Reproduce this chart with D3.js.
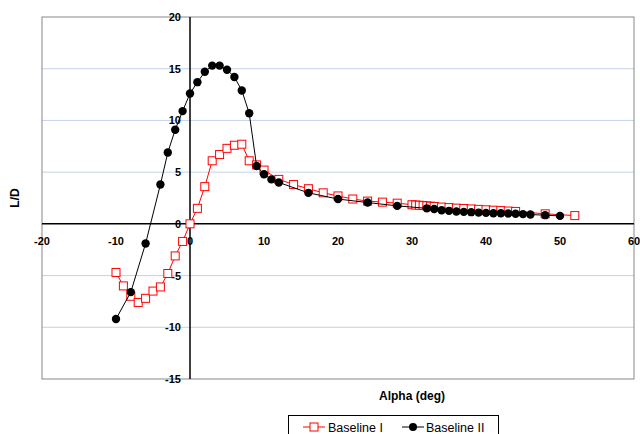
<!DOCTYPE html>
<html>
<head>
<meta charset="utf-8">
<script src="https://cdn.jsdelivr.net/npm/d3@7"></script>
<style>
	body { margin: 0; background: #fff; }
	svg { font-family: Arial, "Liberation Sans", sans-serif; }
</style>
</head>
<body>
<div id="chart"></div>
<script>
// Baseline I (red open squares)
const alphaI = [-10, -9, -8, -7, -6, -5, -4, -3, -2, -1, 0, 1, 2, 3, 4, 5, 6, 7, 8, 9, 10,
	12, 14, 16, 18, 20, 22, 24, 26, 28, 30, 30.5, 31, 31.5, 32, 32.5, 33,
	34, 35, 36, 37, 38, 39, 40, 41, 42, 43, 44, 48, 52];
const ldI = [-4.7, -6.0, -7.0, -7.6, -7.2, -6.5, -6.1, -4.8, -3.1, -1.7, 0, 1.5, 3.6, 6.1, 6.7, 7.3, 7.6, 7.7, 6.1, 5.7, 5.2,
	4.3, 3.8, 3.4, 3.0, 2.7, 2.4, 2.2, 2.1, 2.0, 1.85, 1.82, 1.8, 1.77, 1.74, 1.71, 1.68,
	1.62, 1.57, 1.52, 1.48, 1.44, 1.40, 1.36, 1.32, 1.28, 1.24, 1.2, 0.97, 0.8];

// Baseline II (black filled circles)
const alphaII = [-10, -8, -6, -4, -3, -2, -1, 0, 1, 2, 3, 4, 5, 6, 7, 8, 9, 10, 11, 12,
	16, 20, 24, 28, 32, 33, 34, 35, 36, 37, 38, 39, 40, 41, 42, 43, 44, 45, 46, 48, 50];
const ldII = [-9.2, -6.6, -1.9, 3.8, 6.9, 9.1, 10.9, 12.6, 13.7, 14.7, 15.3, 15.3, 14.9, 14.2, 12.9, 10.7, 5.6, 4.8, 4.3, 4.0,
	3.0, 2.4, 2.06, 1.74, 1.5, 1.43, 1.32, 1.26, 1.19, 1.16, 1.13, 1.09, 1.06, 1.03, 1.03, 1.0, 0.97, 0.94, 0.9, 0.84, 0.77];

const xTicks = [-20, -10, 0, 10, 20, 30, 40, 50, 60];
const yTicks = [-15, -10, -5, 0, 5, 10, 15, 20];
const seriesNames = ['Baseline I', 'Baseline II'];

const W = 640, H = 434;
const x = d3.scaleLinear().domain([-20, 60]).range([42, 634]);
const y = d3.scaleLinear().domain([-15, 20]).range([379, 17]);

const svg = d3.select('#chart').append('svg')
	.attr('width', W)
	.attr('height', H);

// gridlines
svg.append('g')
	.selectAll('line')
	.data(yTicks.filter(d => d != 0 && d != 20 && d != -15))
	.join('line')
	.attr('x1', x(-20)).attr('x2', x(60))
	.attr('y1', d => y(d)).attr('y2', d => y(d))
	.attr('stroke', '#c5d2ec')
	.attr('stroke-width', 1);

// plot frame
svg.append('rect')
	.attr('x', x(-20)).attr('y', y(20))
	.attr('width', x(60) - x(-20))
	.attr('height', y(-15) - y(20))
	.attr('fill', 'none')
	.attr('stroke', '#888')
	.attr('stroke-width', 1);

// axes crossing at zero
svg.append('line')
	.attr('x1', x(-20)).attr('x2', x(60))
	.attr('y1', y(0)).attr('y2', y(0))
	.attr('stroke', '#000').attr('stroke-width', 1.5);
svg.append('line')
	.attr('x1', x(0)).attr('x2', x(0))
	.attr('y1', y(20)).attr('y2', y(-15))
	.attr('stroke', '#000').attr('stroke-width', 1.5);

// tick labels
svg.append('g')
	.selectAll('text')
	.data(xTicks)
	.join('text')
	.attr('x', d => x(d))
	.attr('y', y(0) + 21)
	.attr('text-anchor', 'middle')
	.attr('font-size', 11)
	.attr('font-weight', 'bold')
	.text(d => d);

svg.append('g')
	.selectAll('text')
	.data(yTicks)
	.join('text')
	.attr('x', x(0) - 9)
	.attr('y', d => y(d) + 4)
	.attr('text-anchor', 'end')
	.attr('font-size', 11)
	.attr('font-weight', 'bold')
	.text(d => d);

// axis titles
svg.append('text')
	.attr('x', 412)
	.attr('y', 400)
	.attr('text-anchor', 'middle')
	.attr('font-size', 12)
	.attr('font-weight', 'bold')
	.text('Alpha (deg)');

svg.append('text')
	.attr('transform', 'translate(19,198) rotate(-90)')
	.attr('text-anchor', 'middle')
	.attr('font-size', 12)
	.attr('font-weight', 'bold')
	.text('L/D');

const line = d3.line()
	.x(d => x(d[0]))
	.y(d => y(d[1]));

const dataI = alphaI.map((a, i) => [a, ldI[i]]);
const dataII = alphaII.map((a, i) => [a, ldII[i]]);

// Baseline I
svg.append('path')
	.datum(dataI)
	.attr('d', line)
	.attr('fill', 'none')
	.attr('stroke', '#ff0000')
	.attr('stroke-width', 1);

svg.append('g')
	.selectAll('rect')
	.data(dataI)
	.join('rect')
	.attr('x', d => x(d[0]) - 4)
	.attr('y', d => y(d[1]) - 4)
	.attr('width', 8)
	.attr('height', 8)
	.attr('fill', '#fff')
	.attr('stroke', '#ff0000')
	.attr('stroke-width', 1);

// Baseline II
svg.append('path')
	.datum(dataII)
	.attr('d', line)
	.attr('fill', 'none')
	.attr('stroke', '#000')
	.attr('stroke-width', 1);

svg.append('g')
	.selectAll('circle')
	.data(dataII)
	.join('circle')
	.attr('cx', d => x(d[0]))
	.attr('cy', d => y(d[1]))
	.attr('r', 4.2)
	.attr('fill', '#000');

// legend
const legend = svg.append('g');
legend.append('rect')
	.attr('x', 288.5).attr('y', 415.5)
	.attr('width', 210).attr('height', 26)
	.attr('fill', '#fff')
	.attr('stroke', '#000')
	.attr('stroke-width', 1);

const ly = 427;
legend.append('line')
	.attr('x1', 303).attr('x2', 325)
	.attr('y1', ly).attr('y2', ly)
	.attr('stroke', '#ff0000');
legend.append('rect')
	.attr('x', 310).attr('y', ly - 4)
	.attr('width', 8).attr('height', 8)
	.attr('fill', '#fff')
	.attr('stroke', '#ff0000');
legend.append('text')
	.attr('x', 328).attr('y', ly + 4.5)
	.attr('font-size', 12.5)
	.text(seriesNames[0]);

legend.append('line')
	.attr('x1', 402).attr('x2', 424)
	.attr('y1', ly).attr('y2', ly)
	.attr('stroke', '#000');
legend.append('circle')
	.attr('cx', 413).attr('cy', ly)
	.attr('r', 4)
	.attr('fill', '#000');
legend.append('text')
	.attr('x', 426).attr('y', ly + 4.5)
	.attr('font-size', 12.5)
	.text(seriesNames[1]);
</script>
</body>
</html>
